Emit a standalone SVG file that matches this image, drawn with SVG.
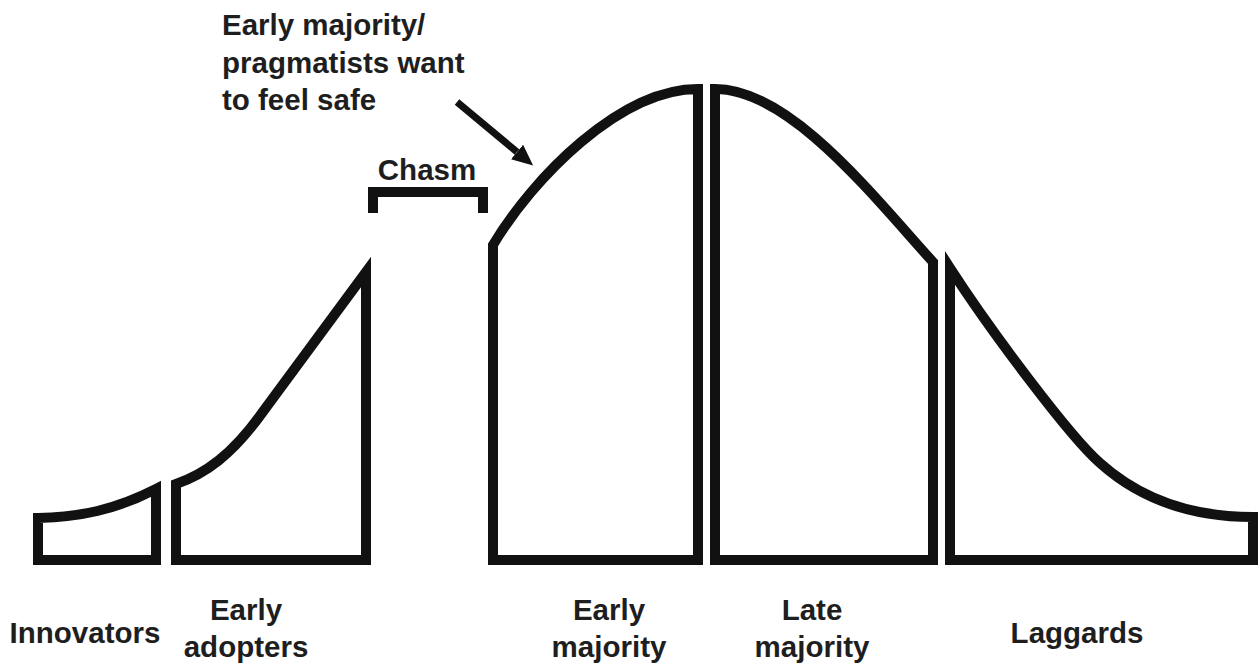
<svg xmlns="http://www.w3.org/2000/svg" width="1258" height="668" viewBox="0 0 1258 668">
  <style>
    .seg { fill: none; stroke: #111; stroke-width: 10; stroke-linejoin: miter; stroke-miterlimit: 10; }
    .lbl { font-family: "Liberation Sans", Arial, sans-serif; font-weight: bold; font-size: 29.5px; fill: #1e1e1e; text-anchor: middle; }
    .note { font-family: "Liberation Sans", Arial, sans-serif; font-weight: bold; font-size: 29.5px; fill: #1e1e1e; }
  </style>
  <defs>
    <marker id="ah" markerWidth="21" markerHeight="19" refX="0" refY="9.5" orient="auto" markerUnits="userSpaceOnUse">
      <path d="M0,0 L21,9.5 L0,19 Z" fill="#111"/>
    </marker>
  </defs>
  <rect width="1258" height="668" fill="#fff"/>

  <g id="innovators">
    <path class="seg" d="M38,560 L38,518 C80,517 115,510 156,489 L156,560 Z"/>
    <text class="lbl" x="85" y="643">Innovators</text>
  </g>

  <g id="early-adopters">
    <path class="seg" d="M176,560 L176,484 C205,474 232,455 262,413 L366,272 L366,560 Z"/>
    <text class="lbl" x="246" y="620">Early</text>
    <text class="lbl" x="246" y="657">adopters</text>
  </g>

  <g id="chasm">
    <path class="seg" d="M373,213 L373,192 L483,192 L483,213" style="stroke-linecap:butt"/>
    <text class="lbl" x="427" y="180">Chasm</text>
  </g>

  <g id="early-majority">
    <path class="seg" d="M493,560 L493,245 C533,178 620,89 698,89 L698,560 Z"/>
    <text class="lbl" x="609" y="620">Early</text>
    <text class="lbl" x="609" y="657">majority</text>
  </g>

  <g id="late-majority">
    <path class="seg" d="M715,560 L715,89 C790,89 873,196 933,262 L933,560 Z"/>
    <text class="lbl" x="812" y="620">Late</text>
    <text class="lbl" x="812" y="657">majority</text>
  </g>

  <g id="laggards">
    <path class="seg" d="M950,560 L950,268 C990,330 1070,437 1100,463 C1140,499 1190,517 1253,517 L1253,560 Z"/>
    <text class="lbl" x="1077" y="643">Laggards</text>
  </g>

  <g id="annotation">
    <text class="note" x="222" y="35">Early majority/</text>
    <text class="note" x="222" y="73">pragmatists want</text>
    <text class="note" x="222" y="110">to feel safe</text>
  </g>

  <g id="connectors">
    <line x1="457" y1="102" x2="517" y2="152" stroke="#111" stroke-width="7" marker-end="url(#ah)"/>
  </g>
</svg>
